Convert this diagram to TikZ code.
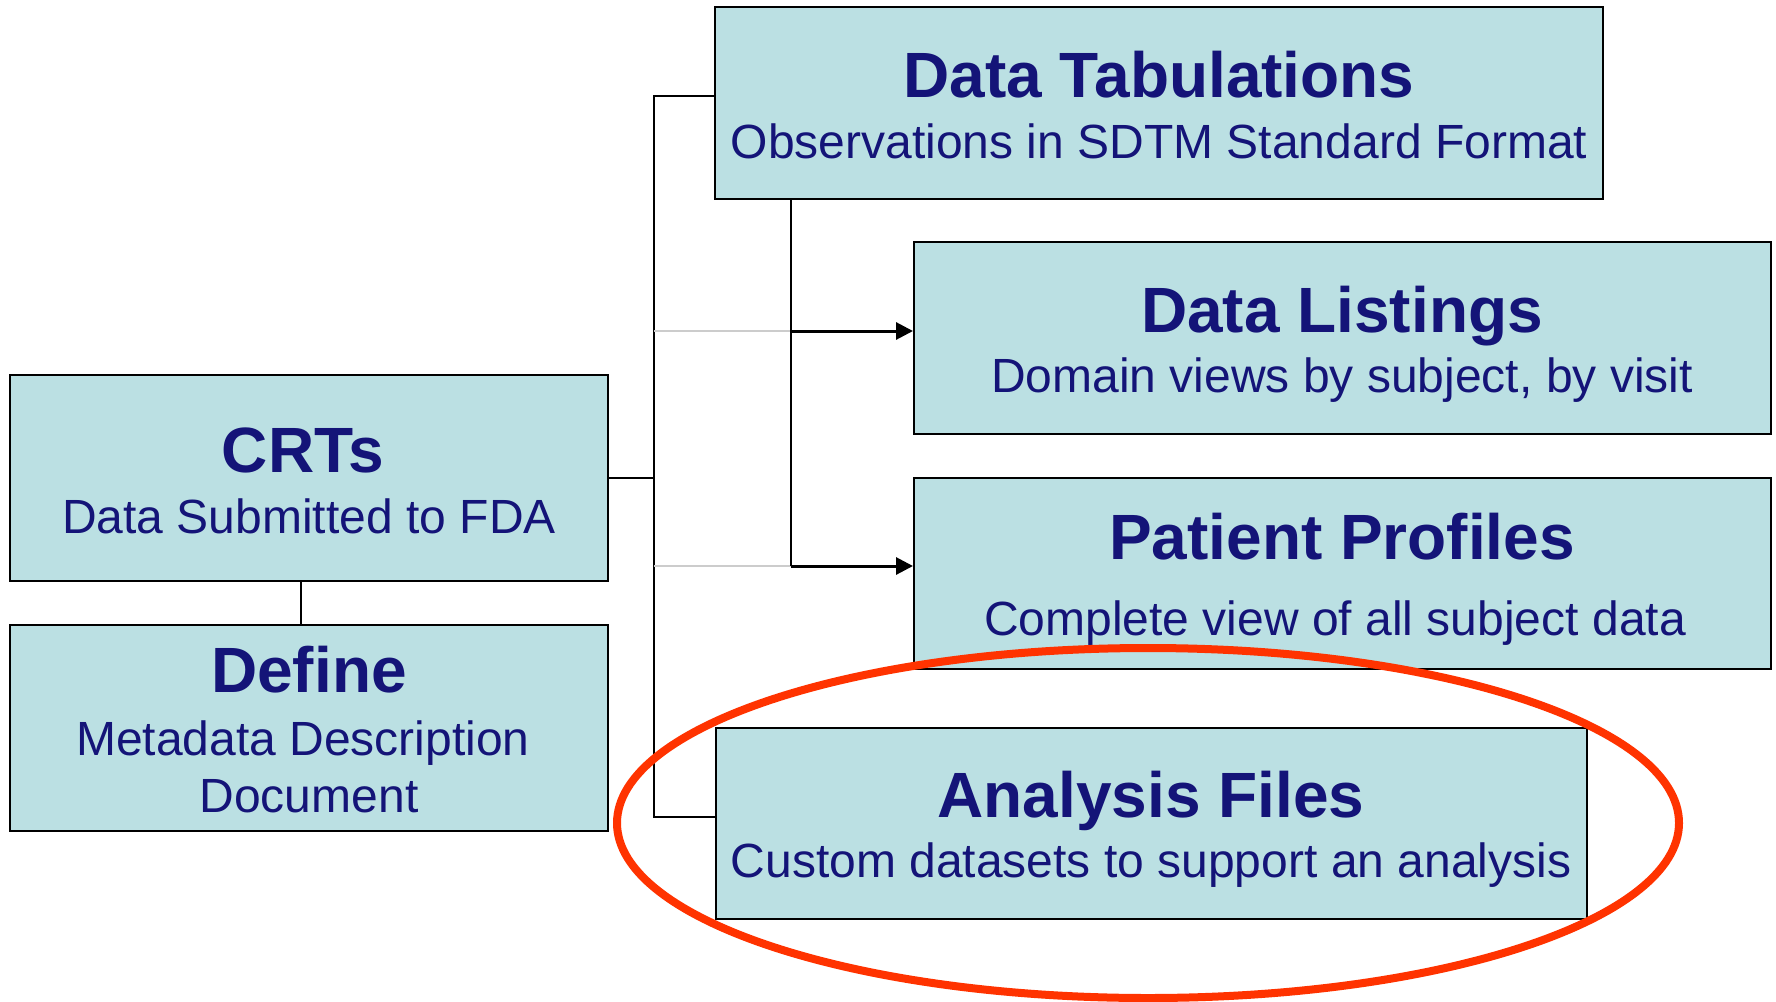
\documentclass[tikz,border=0pt]{standalone}
\usepackage{fontspec}
\setmainfont{Liberation Sans}
\usetikzlibrary{arrows.meta}
\definecolor{boxfill}{RGB}{187,224,227}
\definecolor{navy}{RGB}{20,20,120}
\definecolor{ring}{RGB}{255,51,0}
\tikzset{
  box/.style={draw=black, line width=2pt, fill=boxfill, rectangle, inner sep=0pt},
  ttl/.style={anchor=base, text=navy, inner sep=0pt, font=\fontsize{64}{70}\selectfont\bfseries},
  sub/.style={anchor=base, text=navy, inner sep=0pt, font=\fontsize{48}{52}\selectfont},
  conn/.style={draw=black, line width=2pt},
  arr/.style={draw=black, line width=3pt, -{Triangle[length=17pt,width=17pt]}},
  faint/.style={draw=black!20, line width=2pt},
  ringstyle/.style={draw=ring, line width=8pt}
}
\begin{document}
\begin{tikzpicture}[x=1pt,y=-1pt]
\useasboundingbox (0,0) rectangle (1776,1001);
\fill[white] (0,0) rectangle (1776,1001);
% boxes
\node[box, minimum width=888pt, minimum height=192pt] (dt) at (1159,103) {};
\node[box, minimum width=857pt, minimum height=192pt] (dl) at (1342.5,338) {};
\node[box, minimum width=857pt, minimum height=191pt] (pp) at (1342.5,573.5) {};
\node[box, minimum width=871pt, minimum height=191pt] (af) at (1151.5,823.5) {};
\node[box, minimum width=598pt, minimum height=206pt] (crts) at (309,478) {};
\node[box, minimum width=598pt, minimum height=206pt] (def) at (309,728) {};
% texts
\node[ttl] (dtt) at (1159,97) {Data Tabulations};
\node[sub] (dts) at (1159,158) {Observations in SDTM Standard Format};
\node[ttl] (dlt) at (1342,332) {Data Listings};
\node[sub] (dls) at (1342,392) {Domain views by subject, by visit};
\node[ttl] (ppt) at (1342,559) {Patient Profiles};
\node[sub] (pps) at (1335,635) {Complete view of all subject data};
\node[ttl] (aft) at (1151,817) {Analysis Files};
\node[sub] (afs) at (1151,877) {Custom datasets to support an analysis};
\node[ttl] (crtt) at (303,472) {CRTs};
\node[sub] (crts2) at (309,533) {Data Submitted to FDA};
\node[ttl] (deft) at (309,692) {Define};
\node[sub] (defs1) at (303,755) {Metadata Description};
\node[sub] (defs2) at (309,812) {Document};
% connector coordinates
\coordinate (bt) at (654,96);
\coordinate (bm) at (654,478);
\coordinate (bb) at (654,817);
\coordinate (a1) at (791,331);
\coordinate (a2) at (791,566);
\coordinate (cd) at (301,0);
% connectors
\draw[conn] (crts.east) -- (bm);
\draw[conn] (bt -| dt.west) -- (bt) -- (bb) -- (bb -| af.west);
\draw[faint] (a1 -| bt) -- (a1);
\draw[faint] (a2 -| bt) -- (a2);
\draw[conn] (a1 |- dt.south) -- (a2);
\draw[arr] (a1) -- (a1 -| dl.west);
\draw[arr] (a2) -- (a2 -| pp.west);
\draw[conn] (cd |- crts.south) -- (cd |- def.north);
% highlight ring
\draw[ringstyle] (1148,823) ellipse [x radius=531pt, y radius=175pt];
\end{tikzpicture}
\end{document}
